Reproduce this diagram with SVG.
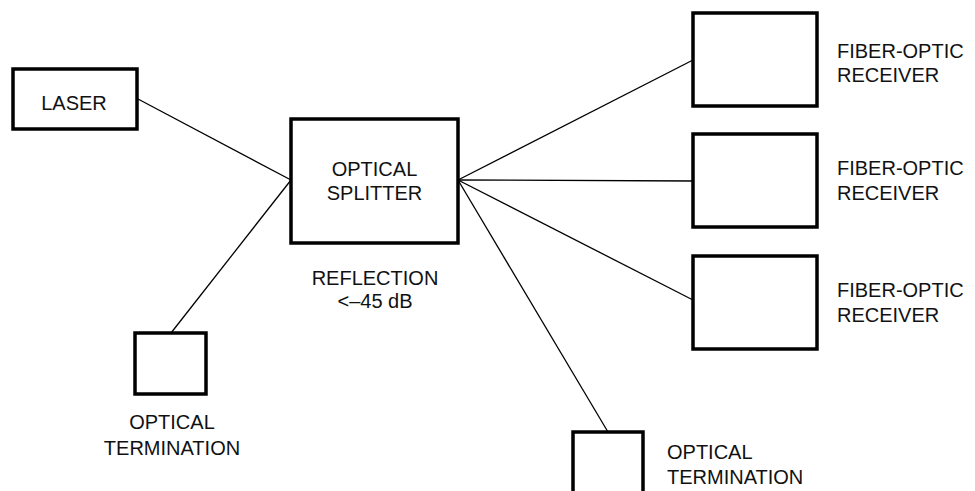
<svg xmlns="http://www.w3.org/2000/svg" width="975" height="491" viewBox="0 0 975 491">
<style>
.box{fill:#fff;stroke:#000;stroke-width:3.5}
.ln{stroke:#000;stroke-width:1.3;fill:none}
text{font-family:"Liberation Sans",Arial,sans-serif;font-size:20px;fill:#111}
.m{text-anchor:middle}
</style>
<rect width="975" height="491" fill="#fff"/>
<g id="connectors">
<line class="ln" x1="138" y1="99" x2="291" y2="180"/>
<line class="ln" x1="291" y1="180" x2="171" y2="333"/>
<line class="ln" x1="458" y1="180" x2="693" y2="60"/>
<line class="ln" x1="458" y1="180" x2="693" y2="181"/>
<line class="ln" x1="458" y1="180" x2="693" y2="300"/>
<line class="ln" x1="458" y1="180" x2="608" y2="432"/>
</g>
<g id="laser">
<rect class="box" x="13" y="69" width="124" height="60"/>
<text class="m" x="74" y="110">LASER</text>
</g>
<g id="splitter">
<rect class="box" x="291" y="119" width="167" height="124"/>
<text class="m" x="374.5" y="176">OPTICAL</text>
<text class="m" x="374.5" y="200">SPLITTER</text>
<text class="m" x="375" y="285">REFLECTION</text>
<text class="m" x="375" y="308">&lt;–45 dB</text>
</g>
<g id="receiver1">
<rect class="box" x="693" y="13" width="124" height="93"/>
<text x="837" y="58">FIBER-OPTIC</text>
<text x="837" y="82">RECEIVER</text>
</g>
<g id="receiver2">
<rect class="box" x="693" y="134" width="124" height="93"/>
<text x="837" y="175">FIBER-OPTIC</text>
<text x="837" y="200">RECEIVER</text>
</g>
<g id="receiver3">
<rect class="box" x="693" y="256" width="124" height="93"/>
<text x="837" y="297">FIBER-OPTIC</text>
<text x="837" y="322">RECEIVER</text>
</g>
<g id="termination-left">
<rect class="box" x="135" y="333" width="71" height="61"/>
<text class="m" x="172" y="429">OPTICAL</text>
<text class="m" x="172" y="455">TERMINATION</text>
</g>
<g id="termination-right">
<rect class="box" x="573" y="432" width="70" height="80"/>
<text x="667" y="459">OPTICAL</text>
<text x="667" y="484">TERMINATION</text>
</g>
</svg>
